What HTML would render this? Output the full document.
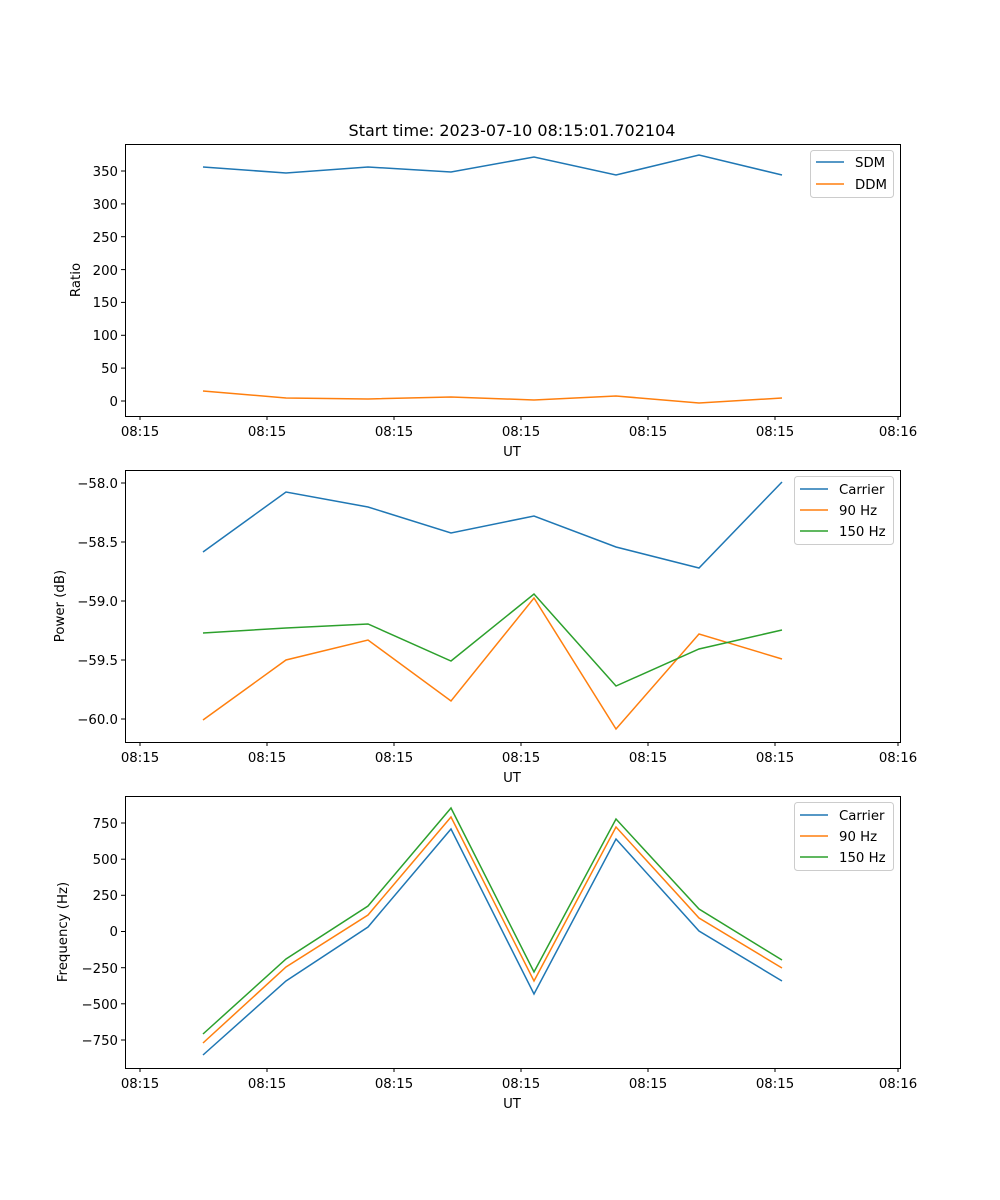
<!DOCTYPE html>
<html><head><style>body{margin:0;background:#fff}svg{display:block}text{font-family:"DejaVu Sans","Liberation Sans",sans-serif;font-size:13.3px;fill:#000}</style></head>
<body>
<svg width="1000" height="1200" viewBox="0 0 1000 1200" xmlns="http://www.w3.org/2000/svg">
<rect width="1000" height="1200" fill="#fff"/>
<text x="512" y="136" text-anchor="middle" style="font-size:16px">Start time: 2023-07-10 08:15:01.702104</text>

<!-- Plot 1 -->
<g stroke="#000" stroke-width="1">
<line x1="125" y1="401" x2="121" y2="401"/><line x1="125" y1="368.1" x2="121" y2="368.1"/><line x1="125" y1="335.3" x2="121" y2="335.3"/><line x1="125" y1="302.4" x2="121" y2="302.4"/><line x1="125" y1="269.6" x2="121" y2="269.6"/><line x1="125" y1="236.7" x2="121" y2="236.7"/><line x1="125" y1="203.9" x2="121" y2="203.9"/><line x1="125" y1="171" x2="121" y2="171"/>
</g>
<g text-anchor="end">
<text x="118" y="406">0</text><text x="118" y="373">50</text><text x="118" y="340">100</text><text x="118" y="307">150</text><text x="118" y="275">200</text><text x="118" y="242">250</text><text x="118" y="209">300</text><text x="118" y="176">350</text>
</g>
<text transform="translate(80,280) rotate(-90)" text-anchor="middle">Ratio</text>
<polyline fill="none" stroke="#1f77b4" stroke-width="1.5" points="203,167 286,173 368,167 451,172 534,157 616,175 699,155 782,175"/>
<polyline fill="none" stroke="#ff7f0e" stroke-width="1.5" points="203,391 286,398 368,399 451,397 534,400 616,396 699,403 782,398"/>
<rect x="125.5" y="144.5" width="775" height="272" fill="none" stroke="#000"/>
<rect x="810.5" y="150.5" width="83" height="47" rx="3" fill="#fff" stroke="#ccc"/>
<line x1="816" y1="162" x2="844" y2="162" stroke="#1f77b4" stroke-width="1.5"/><text x="855" y="167">SDM</text>
<line x1="816" y1="184" x2="844" y2="184" stroke="#ff7f0e" stroke-width="1.5"/><text x="855" y="189">DDM</text>

<!-- Plot 2 -->
<g stroke="#000"><line x1="125" y1="719" x2="121" y2="719"/><line x1="125" y1="660" x2="121" y2="660"/><line x1="125" y1="601" x2="121" y2="601"/><line x1="125" y1="542" x2="121" y2="542"/><line x1="125" y1="483" x2="121" y2="483"/></g>
<g text-anchor="end"><text x="118" y="724">−60.0</text><text x="118" y="665">−59.5</text><text x="118" y="606">−59.0</text><text x="118" y="547">−58.5</text><text x="118" y="488">−58.0</text></g>
<text transform="translate(64,606) rotate(-90)" text-anchor="middle">Power (dB)</text>
<polyline fill="none" stroke="#1f77b4" stroke-width="1.5" points="203,552 286,492 368,507 451,533 534,516 616,547 699,568 782,482"/>
<polyline fill="none" stroke="#ff7f0e" stroke-width="1.5" points="203,720 286,660 368,640 451,701 534,598 616,729 699,634 782,659"/>
<polyline fill="none" stroke="#2ca02c" stroke-width="1.5" points="203,633 286,628 368,624 451,661 534,594 616,686 699,649 782,630"/>
<rect x="125.5" y="470.5" width="775" height="272" fill="none" stroke="#000"/>
<rect x="794.5" y="476.5" width="99" height="68" rx="3" fill="#fff" stroke="#ccc"/>
<line x1="800" y1="489" x2="828" y2="489" stroke="#1f77b4" stroke-width="1.5"/><text x="839" y="494">Carrier</text>
<line x1="800" y1="510" x2="828" y2="510" stroke="#ff7f0e" stroke-width="1.5"/><text x="839" y="515">90 Hz</text>
<line x1="800" y1="531" x2="828" y2="531" stroke="#2ca02c" stroke-width="1.5"/><text x="839" y="536">150 Hz</text>

<!-- Plot 3 -->
<g stroke="#000"><line x1="125" y1="1040" x2="121" y2="1040"/><line x1="125" y1="1003.8" x2="121" y2="1003.8"/><line x1="125" y1="967.7" x2="121" y2="967.7"/><line x1="125" y1="931.5" x2="121" y2="931.5"/><line x1="125" y1="895.3" x2="121" y2="895.3"/><line x1="125" y1="859.2" x2="121" y2="859.2"/><line x1="125" y1="823" x2="121" y2="823"/></g>
<g text-anchor="end"><text x="118" y="1045">−750</text><text x="118" y="1009">−500</text><text x="118" y="973">−250</text><text x="118" y="936">0</text><text x="118" y="900">250</text><text x="118" y="864">500</text><text x="118" y="828">750</text></g>
<text transform="translate(67,932) rotate(-90)" text-anchor="middle">Frequency (Hz)</text>
<polyline fill="none" stroke="#1f77b4" stroke-width="1.5" points="203,1055 286,981 368,927 451,829 534,994 616,839 699,931 782,981"/>
<polyline fill="none" stroke="#ff7f0e" stroke-width="1.5" points="203,1043 286,967 368,915 451,817 534,981 616,827 699,918 782,968"/>
<polyline fill="none" stroke="#2ca02c" stroke-width="1.5" points="203,1034 286,959 368,906 451,808 534,972 616,819 699,909 782,960"/>
<rect x="125.5" y="796.5" width="775" height="272" fill="none" stroke="#000"/>
<rect x="794.5" y="802.5" width="99" height="68" rx="3" fill="#fff" stroke="#ccc"/>
<line x1="800" y1="815" x2="828" y2="815" stroke="#1f77b4" stroke-width="1.5"/><text x="839" y="820">Carrier</text>
<line x1="800" y1="836" x2="828" y2="836" stroke="#ff7f0e" stroke-width="1.5"/><text x="839" y="841">90 Hz</text>
<line x1="800" y1="857" x2="828" y2="857" stroke="#2ca02c" stroke-width="1.5"/><text x="839" y="862">150 Hz</text>

<!-- X axes -->
<g id="xa">
<g stroke="#000"><line x1="140" y1="416" x2="140" y2="420"/><line x1="267" y1="416" x2="267" y2="420"/><line x1="394" y1="416" x2="394" y2="420"/><line x1="521" y1="416" x2="521" y2="420"/><line x1="648" y1="416" x2="648" y2="420"/><line x1="775" y1="416" x2="775" y2="420"/><line x1="898" y1="416" x2="898" y2="420"/></g>
<g text-anchor="middle"><text x="140" y="436">08:15</text><text x="267" y="436">08:15</text><text x="394" y="436">08:15</text><text x="521" y="436">08:15</text><text x="648" y="436">08:15</text><text x="775" y="436">08:15</text><text x="898" y="436">08:16</text><text x="512" y="456">UT</text></g>
</g>
<use href="#xa" y="326"/>
<use href="#xa" y="652"/>
</svg>
</body></html>
